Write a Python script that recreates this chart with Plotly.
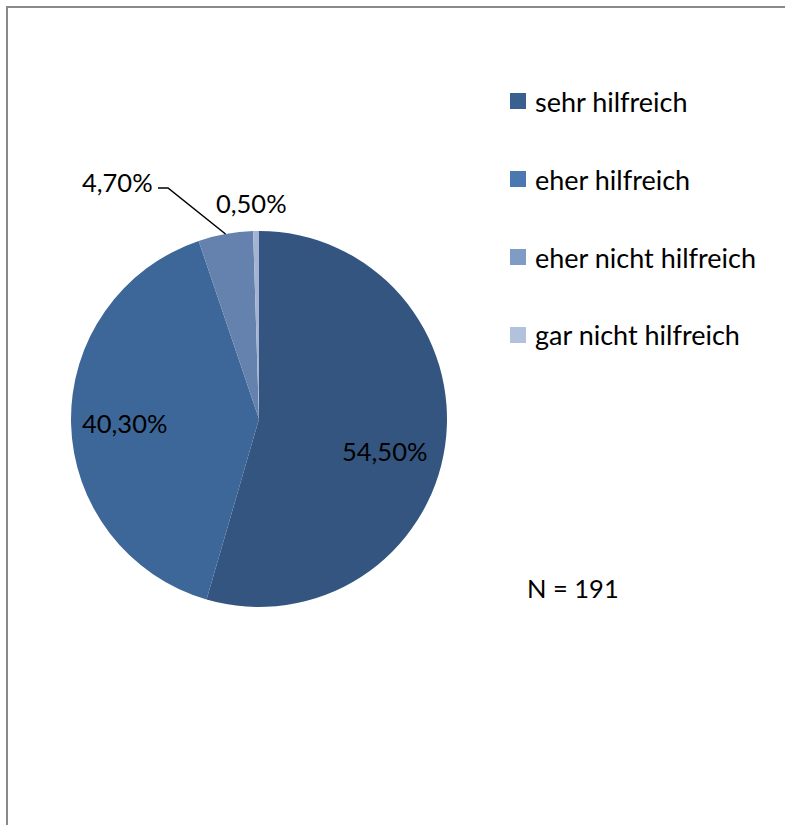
import math
import plotly.graph_objects as go

# ---- data ----
labels = ["sehr hilfreich", "eher hilfreich", "eher nicht hilfreich", "gar nicht hilfreich"]
values = [54.5, 40.3, 4.7, 0.5]
value_texts = ["54,50%", "40,30%", "4,70%", "0,50%"]
note_text = "N = 191"

# ---- style ----
slice_colors = ["#34557F", "#3E6799", "#6482AD", "#A3B5D3"]
legend_colors = ["#3A6090", "#4A78B0", "#7F9CC6", "#B2C2DD"]
FONT = "Lato"
FS_LBL = 25.5
FS_LEG = 27
W, H = 785, 825
CX, CY, R = 259, 419, 188  # pie centre / radius in px

def px(x):
    return x / W

def py(y):
    return 1 - y / H

fig = go.Figure()
fig.add_trace(go.Pie(
    labels=labels, values=values, sort=False, direction="clockwise", rotation=0,
    marker=dict(colors=slice_colors, line=dict(width=0)),
    textinfo="none", hoverinfo="label+percent", showlegend=False,
    domain=dict(x=[px(CX - R), px(CX + R)], y=[py(CY + R), py(CY - R)]),
))

# label positions (pixels) for each slice value text
label_pos = [(384, 451), (124, 423), (117, 182), (251, 203)]
annotations = []
for t, (lx, ly) in zip(value_texts, label_pos):
    annotations.append(dict(x=px(lx), y=py(ly), xref="paper", yref="paper", text=t,
                            xanchor="center", yanchor="middle",
                            showarrow=False, font=dict(family=FONT, size=FS_LBL, color="black")))

# leader line for the 4,70% slice: edge point from data
total = sum(values)
cum = sum(values[:2]) + values[2] / 2
ang = 2 * math.pi * cum / total
ex, ey = CX + R * math.sin(ang), CY - R * math.cos(ang)
shapes = [
    dict(type="path", xref="paper", yref="paper",
         path=f"M {px(158)},{py(188)} L {px(168)},{py(188)} L {px(ex)},{py(ey)}",
         line=dict(color="black", width=1.5)),
    # frame
    dict(type="rect", xref="paper", yref="paper", x0=px(7), y0=py(H + 20), x1=px(W + 20), y1=py(7),
         line=dict(color="#8a8a8a", width=2)),
]

# manual legend
leg_x, leg_y0, leg_dy, sq = 510, 101, 78, 16
for i, (lab, col) in enumerate(zip(labels, legend_colors)):
    yy = leg_y0 + i * leg_dy
    shapes.append(dict(type="rect", xref="paper", yref="paper", x0=px(leg_x), x1=px(leg_x + sq),
                       y0=py(yy + sq / 2), y1=py(yy - sq / 2), fillcolor=col, line=dict(width=0)))
    annotations.append(dict(x=px(533), y=py(yy), xref="paper", yref="paper", text=lab,
                            xanchor="left", yanchor="middle", showarrow=False,
                            font=dict(family=FONT, size=FS_LEG, color="black")))

annotations.append(dict(x=px(525), y=py(588), xref="paper", yref="paper", text=note_text,
                        xanchor="left", yanchor="middle", showarrow=False,
                        font=dict(family=FONT, size=FS_LBL, color="black")))

fig.update_layout(
    width=W, height=H, margin=dict(l=0, r=0, t=0, b=0),
    paper_bgcolor="white", plot_bgcolor="white",
    annotations=annotations, shapes=shapes, showlegend=False,
)
fig.write_html("out.html", config={"displayModeBar": False},
               post_script="document.body.style.margin='0';document.body.style.overflow='hidden';")
